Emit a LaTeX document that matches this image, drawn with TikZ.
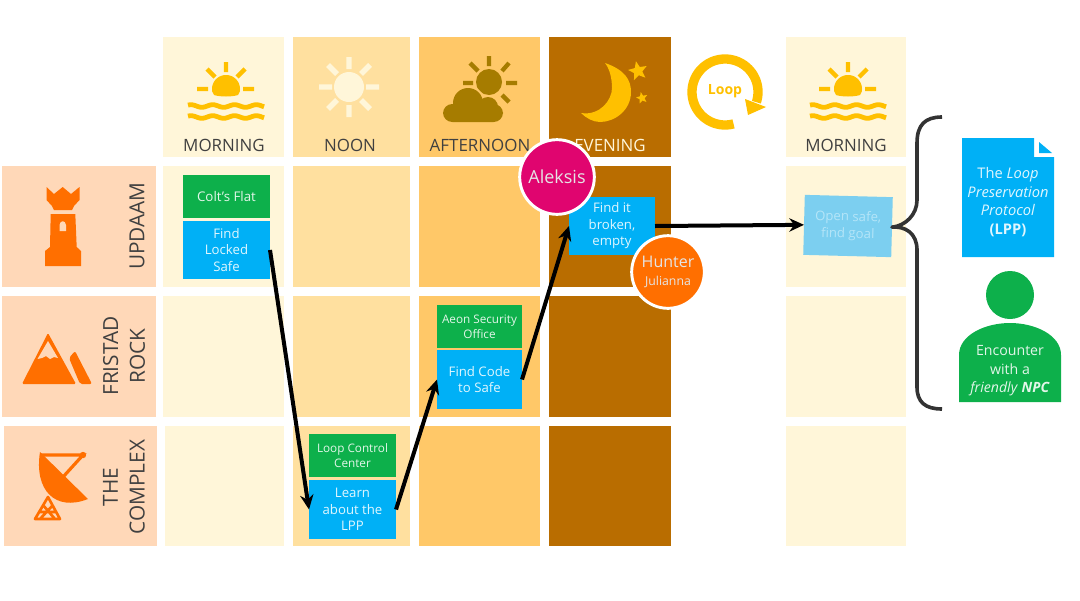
\documentclass[tikz,border=0pt]{standalone}
\usepackage{fontspec}
\setmainfont{Open Sans}
\usetikzlibrary{arrows.meta,shapes.geometric}
\definecolor{cmorn}{HTML}{FFF6D9}
\definecolor{cnoon}{HTML}{FFE09F}
\definecolor{caft}{HTML}{FFC868}
\definecolor{ceve}{HTML}{B96D00}
\definecolor{crow}{HTML}{FFD8B8}
\definecolor{corange}{HTML}{FF6F00}
\definecolor{cgreen}{HTML}{0DB04B}
\definecolor{cblue}{HTML}{00B0F6}
\definecolor{cpink}{HTML}{E0056F}
\definecolor{cgold}{HTML}{FFC000}
\definecolor{cdust}{HTML}{A67C00}
\definecolor{ctext}{HTML}{404040}
\definecolor{cgoal}{HTML}{7CCFF0}
\definecolor{cgoalt}{HTML}{B4E5F8}
\tikzset{
  cell/.style={inner sep=0pt,outer sep=0pt},
  hdr/.style={font=\fontsize{12.7}{14}\selectfont,text=ctext,inner sep=0pt},
  rowlab/.style={font=\fontsize{15.6}{20}\selectfont,text=ctext,rotate=90,align=center,inner sep=0pt},
  place/.style={fill=cgreen,text=white!88!cgreen,align=center,inner sep=0pt,outer sep=0pt,font=\fontsize{8.8}{11.4}\selectfont},
  task/.style={fill=cblue,text=white!88!cblue,align=center,inner sep=0pt,outer sep=0pt,font=\fontsize{9.9}{12.4}\selectfont},
  who/.style={circle,draw=white,line width=2.2pt,align=center,inner sep=0pt,text=white!90!black},
  flow/.style={-{Stealth[length=11pt,width=10pt]},line width=3pt,black},
  ray/.style={line width=3.2pt},
  wave/.style={line width=3.6pt,cgold},
}
\newcommand{\pbox}[7][]{\node[#2,#1,minimum width={(#5-#3)*0.75pt},minimum height={(#6-#4)*0.75pt}] (#7) at ({(#3+#5)/2},{(#4+#6)/2})}
\newcommand{\sunrise}[1]{\begin{scope}[shift={(#1,0)}]
  \fill[cgold] plot[domain=170:370,samples=40] ({226+14*cos(\x)},{89+14*sin(\x)}) -- (238,95) .. controls (232,97) and (220,97) .. (214,95) -- cycle;
  \draw[ray,cgold] (226,62)--(226,72) (207,69)--(215,77) (245,69)--(237,77) (197,89)--(208,89) (243,89)--(254,89);
  \draw[wave] plot[domain=188:264,samples=60,smooth] (\x,{106+1.3*sin(16.5*\x)});
  \draw[wave] plot[domain=188:264,samples=60,smooth] (\x,{117+1.3*sin(16.5*\x)});
\end{scope}}
\begin{document}
\begin{tikzpicture}[x=0.75pt,y=-0.75pt]
\useasboundingbox (0,0) rectangle (1080,600);
% cells
\pbox{cell,fill=cmorn}{163}{37}{284}{157}{h1}{};
\pbox{cell,fill=cnoon}{293}{37}{410}{157}{h2}{};
\pbox{cell,fill=caft}{419}{37}{540}{157}{h3}{};
\pbox{cell,fill=ceve}{549}{37}{671}{157}{h4}{};
\pbox{cell,fill=cmorn}{786}{37}{906}{157}{h5}{};
\pbox{cell,fill=cmorn}{163}{166}{284}{287}{a1}{};
\pbox{cell,fill=cnoon}{293}{166}{410}{287}{a2}{};
\pbox{cell,fill=caft}{419}{166}{540}{287}{a3}{};
\pbox{cell,fill=ceve}{549}{166}{671}{287}{a4}{};
\pbox{cell,fill=cmorn}{786}{166}{906}{287}{a5}{};
\pbox{cell,fill=cmorn}{163}{296}{284}{417}{b1}{};
\pbox{cell,fill=cnoon}{293}{296}{410}{417}{b2}{};
\pbox{cell,fill=caft}{419}{296}{540}{417}{b3}{};
\pbox{cell,fill=ceve}{549}{296}{671}{417}{b4}{};
\pbox{cell,fill=cmorn}{786}{296}{906}{417}{b5}{};
\pbox{cell,fill=cmorn}{165}{426}{284}{546}{c1}{};
\pbox{cell,fill=cnoon}{293}{426}{410}{546}{c2}{};
\pbox{cell,fill=caft}{419}{426}{540}{546}{c3}{};
\pbox{cell,fill=ceve}{549}{426}{671}{546}{c4}{};
\pbox{cell,fill=cmorn}{786}{426}{906}{546}{c5}{};
\pbox{cell,fill=crow}{2}{166}{156}{287}{r1}{};
\pbox{cell,fill=crow}{2}{296}{156}{417}{r2}{};
\pbox{cell,fill=crow}{4}{426}{157}{546}{r3}{};
% header labels
\node[hdr] (t1) at (224,145) {MORNING};
\node[hdr] (t2) at (350,145) {NOON};
\node[hdr] (t3) at (480,145) {AFTERNOON};
\node[hdr,text=cmorn] (t4) at (610,145) {EVENING};
\node[hdr] (t5) at (846,145) {MORNING};
% row labels
\node[rowlab] (l1) at (137,226) {UPDAAM};
\node[rowlab] (l2) at (124,356) {FRISTAD\\ROCK};
\node[rowlab] (l3) at (124,487) {THE\\COMPLEX};
% sunrise icons
\sunrise{0}
\sunrise{622}
% noon icon
\fill[cmorn] (349,87) circle[radius=15];
\draw[line width=4pt,cmorn] (349,57)--(349,69) (349,105)--(349,117) (319,87)--(332,87) (366,87)--(379,87)
  (328,65)--(337,74) (370,65)--(361,74) (328,109)--(337,100) (370,109)--(361,100);
% afternoon icon
\fill[cdust] (489,82) circle[radius=13];
\draw[ray,cdust] (489,56)--(489,66) (470,63)--(478,71) (509,63)--(502,71) (463,83)--(473,83) (506,83)--(517,83) (502,95)--(509,102);
\draw[caft,line width=3pt,fill=caft] (468,103) circle[radius=15] (488,107) circle[radius=10];
\fill[cdust] (468,103) circle[radius=15] (488,107) circle[radius=10];
\fill[cdust,rounded corners=7pt] (443,104) rectangle (503,122);
% evening icon
\fill[cgold] (605,63) .. controls (625,70) and (631,80) .. (631,92) .. controls (631,110) and (615,122) .. (600,122) .. controls (593,122) and (586,118) .. (581,113) .. controls (600,116) and (612,100) .. (612,88) .. controls (612,77) and (609,68) .. (605,63) -- cycle;
\node[star,star points=5,star point ratio=2.3,fill=cgold,inner sep=0pt,minimum size=15pt,rotate=12] (s1) at (638,71) {};
\node[star,star points=5,star point ratio=2.3,fill=cgold,inner sep=0pt,minimum size=9pt,rotate=12] (s2) at (642,98) {};
% loop
\draw[line width=7pt,cgold] plot[domain=75:378,samples=80,smooth] ({725+33*cos(\x)},{92+33*sin(\x)});
\fill[cgold] (745,99) -- (766,107) -- (748,115) -- cycle;
\node[font=\fontsize{10.5}{12}\selectfont\bfseries,text=cgold,inner sep=0pt] (loopt) at (725,91) {Loop};
% tower
\fill[corange] (46.5,187) -- (54,194) -- (62.7,187) -- (71,194) -- (79.5,187) -- (79.5,200) -- (74,206) -- (72,210) -- (54,210) -- (52,206) -- (46.5,200) -- cycle;
\fill[corange] (50.7,214) -- (75.3,214) -- (76.7,247) -- (81,251) -- (81,266) -- (45,266) -- (45,251) -- (50,247) -- cycle;
\fill[crow] (59.5,231) -- (59.5,225) .. controls (60,220) and (65.5,220) .. (66,225) -- (66,231) -- cycle;
% mountain
\fill[corange,rounded corners=1pt] (48,333) -- (76,384) -- (22,384) -- cycle;
\fill[crow] (48,341) -- (58,358) -- (54,357) -- (50,359) -- (46,356) -- (42,358) -- (37.5,359) -- cycle;
\fill[corange,rounded corners=1.5pt] (75,351) -- (92,384) -- (80,384) -- (69,358) -- cycle;
% dish
\fill[corange] (40,452) .. controls (34,490) and (55,512) .. (88,499) -- cycle;
\draw[line width=2.4pt,corange] (40,455)--(83,455)--(63,477);
\fill[corange] (83,455) circle[radius=3.2];
\draw[line width=2pt,corange,line join=round] (48,497)--(35,519)--(60,519)--cycle (43,505)--(55,519) (53,505)--(40,519) (39,512)--(56,512);
% boxes
\pbox[font=\fontsize{10}{12}\selectfont]{place}{183}{175}{270}{218}{colt}{Colt's Flat};
\pbox{task}{183}{221}{270}{279}{safe}{Find\\Locked\\Safe};
\pbox{place}{309}{434}{396}{477}{lcc}{Loop Control\\Center};
\pbox{task}{309}{480}{396}{539}{learn}{Learn\\about the\\LPP};
\pbox{place}{437}{305}{522}{348}{aeon}{Aeon Security\\Office};
\pbox{task}{437}{350}{522}{409}{code}{Find Code\\to Safe};
\pbox{task}{569}{197}{655}{255}{broken}{Find it\\broken,\\empty};
\node[fill=cgoal,text=cgoalt,align=center,inner sep=0pt,outer sep=0pt,minimum width=66pt,minimum height=45pt,rotate=-1.5,font=\fontsize{9.9}{12.6}\selectfont] (goal) at (848,226) {Open safe,\\find goal};
% connectors
\draw[flow] (safe.east) -- (learn.west);
\draw[flow] (learn.east) -- (code.west);
\draw[flow] (code.east) -- (broken.west);
\draw[flow] (broken.east) -- (goal.west);
% people
\node[who,fill=cpink,minimum size=56pt,font=\fontsize{13.5}{14}\selectfont] (aleksis) at (557,177) {Aleksis};
\node[who,fill=corange,minimum size=54.5pt,font=\fontsize{9.2}{13}\selectfont] (hunter) at (668,272) {{\fontsize{12}{14}\selectfont Hunter}\\Julianna};
% brace
\coordinate (bt) at (942,117);
\coordinate (bb) at (942,409);
\draw[line width=2.7pt,ctext!80!black,line join=round] (bt) .. controls (925,117) and (917,125) .. (917,143) -- (917,200) .. controls (917,215) and (905,226) .. (goal.east) .. controls (905,226) and (917,233) .. (917,250) -- (917,387) .. controls (917,402) and (925,409) .. (bb);
% document
\fill[cblue] (962,138) -- (1034,138) -- (1034,157) -- (1054,157) -- (1054,257) -- (962,257) -- cycle;
\fill[cblue] (1039,142) -- (1052,153) -- (1039,153) -- cycle;
\node[text=white!88!cblue,align=center,inner sep=0pt,font=\fontsize{11}{13.8}\selectfont] (lpp) at (1008,202) {The \textit{Loop}\\\textit{Preservation}\\\textit{Protocol}\\\textbf{(LPP)}};
% person
\fill[cgreen] (1010,295) circle[radius=24];
\fill[cgreen] (959,402) -- (959,355) .. controls (959,335) and (985,323) .. (1010,323) .. controls (1035,323) and (1061,335) .. (1061,355) -- (1061,402) -- cycle;
\node[text=white!88!cgreen,align=center,inner sep=0pt,font=\fontsize{10.6}{13.8}\selectfont] (npc) at (1010,371) {Encounter\\with a\\\textit{friendly} \textbf{\textit{NPC}}};
\end{tikzpicture}
\end{document}
